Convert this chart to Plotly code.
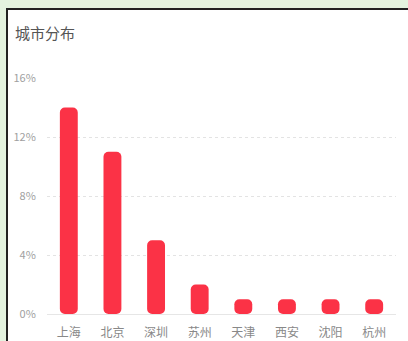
import plotly.graph_objects as go

cities = ["上海", "北京", "深圳", "苏州", "天津", "西安", "沈阳", "杭州"]
shares = [14, 11, 5, 2, 1, 1, 1, 1]
y_ticks = [0, 4, 8, 12, 16]
y_tick_text = ["0%", "4%", "8%", "12%", "16%"]
title_text = "城市分布"

BAR = "#fb3246"
FONT = "Noto Sans CJK SC"

fig = go.Figure()
fig.add_trace(go.Bar(x=cities, y=shares, base=[0] * len(shares),
                     marker=dict(color=BAR, cornerradius=5, line=dict(width=0)),
                     width=0.41, showlegend=False,
                     hovertemplate="%{x}: %{y}%<extra></extra>"))

L, R, T, B = 47, 12, 78, 27
W, H = 408, 341
pw, ph = W - L - R, H - T - B

def px_x(p):
    return (p - L) / pw

def px_y(p):
    return (H - B - p) / ph

fig.update_layout(
    width=W, height=H,
    margin=dict(l=L, r=R, t=T, b=B, autoexpand=False),
    paper_bgcolor="#e4f3df",
    plot_bgcolor="rgba(0,0,0,0)",
    font=dict(family=FONT, color="#999999", size=11),
    title=dict(text=title_text, xref="container", yref="container",
               x=15 / W, xanchor="left", y=1 - 34 / H, yanchor="middle",
               automargin=False,
               font=dict(family=FONT, size=15, color="#555555")),
    shapes=[
        dict(type="rect", xref="paper", yref="paper", layer="below",
             x0=px_x(7), x1=px_x(W + 10), y0=px_y(H + 10), y1=px_y(9),
             fillcolor="white", line=dict(color="#222222", width=2)),
    ],
    xaxis=dict(showgrid=False, showline=True, linecolor="#e6e6e6", linewidth=1,
               automargin=False,
               ticks="outside", ticklen=8, tickcolor="rgba(0,0,0,0)",
               tickfont=dict(size=12, color="#888888"), fixedrange=True),
    yaxis=dict(range=[0, 16], tickvals=y_ticks, ticktext=y_tick_text,
               automargin=False,
               showgrid=True, gridcolor="#e3e3e3", griddash="dot", gridwidth=1,
               zeroline=False, showline=False,
               ticks="outside", ticklen=8, tickcolor="rgba(0,0,0,0)",
               tickfont=dict(size=11, color="#a0a0a0"), fixedrange=True),
)

fig.write_html("out.html")
